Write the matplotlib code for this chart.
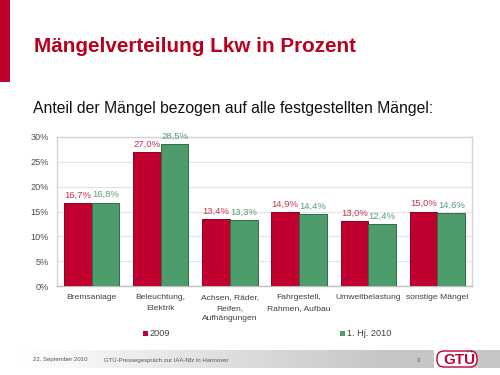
import matplotlib
matplotlib.use("Agg")
import matplotlib.pyplot as plt
import numpy as np
from matplotlib.patches import Rectangle, FancyBboxPatch

plt.rcParams['font.family'] = ['Liberation Sans', 'DejaVu Sans']

categories = ["Bremsanlage", "Beleuchtung,\nElektrik", "Achsen, Räder,\nReifen,\nAufhängungen",
              "Fahrgestell,\nRahmen, Aufbau", "Umweltbelastung", "sonstige Mängel"]
series_names = ["2009", "1. Hj. 2010"]
values_2009 = [16.7, 27.0, 13.4, 14.9, 13.0, 15.0]
values_2010 = [16.8, 28.5, 13.3, 14.4, 12.4, 14.6]
yticks = [0, 5, 10, 15, 20, 25, 30]

RED = "#C0002F"
GREEN = "#4C9C6C"
RED_EDGE = "#8A0022"
GREEN_EDGE = "#2F6E48"
RED_TXT = "#C8324E"
GREEN_TXT = "#5A9C74"

W, H = 500, 375
fig = plt.figure(figsize=(5, 3.75), dpi=100)

def rect(x0, y0, x1, y1):
    return [x0 / W, 1 - y1 / H, (x1 - x0) / W, (y1 - y0) / H]

# background overlay axes
bg = fig.add_axes([0, 0, 1, 1])
bg.set_xlim(0, W)
bg.set_ylim(H, 0)
bg.axis('off')
bg.add_patch(Rectangle((0, 0), 10, 82, color="#C0002F", lw=0))
bg.text(34, 46, "Mängelverteilung Lkw in Prozent", color="#B8001E", fontsize=14.9,
        fontweight='bold', va='center', ha='left')
bg.text(33, 108, "Anteil der Mängel bezogen auf alle festgestellten Mängel:", color="#111111",
        fontsize=11.3, va='center', ha='left')

# footer gradient
grad = np.linspace(0, 1, 256)
gcol = np.ones((1, 256, 3))
light = np.array([1.0, 1.0, 1.0])
dark = np.array([0.78, 0.78, 0.79])
for i, g in enumerate(grad):
    t = min(1.0, g * 1.15)
    gcol[0, i] = light * (1 - t) + dark * t
bg.imshow(gcol, extent=(20, 434, 368, 350), aspect='auto', zorder=1)
bg.add_patch(Rectangle((470, 350), 30, 18, color="#C6C6C8", lw=0, zorder=1))
bg.add_patch(FancyBboxPatch((437, 351), 40, 16, boxstyle="round,pad=0,rounding_size=7",
                            fc="white", ec="#C0002F", lw=1.0, zorder=2))
bg.text(459, 359.5, "GTÜ", color="#C0002F", fontsize=11, fontweight='bold',
        ha='center', va='center', zorder=3)
bg.text(33, 360, "22. September 2010", fontsize=4.3, color="#555555", va='center', zorder=3)
bg.text(104, 360, "GTÜ-Pressegespräch zur IAA-Nfz in Hannover", fontsize=4.3,
        color="#555555", va='center', zorder=3)
bg.text(417, 360, "3", fontsize=4.3, color="#555555", va='center', zorder=3)

# legend
bg.add_patch(Rectangle((143, 331), 5, 5, color=RED, lw=0))
bg.text(149, 334, series_names[0], fontsize=6.6, color="#404040", va='center')
bg.add_patch(Rectangle((340, 331), 5, 5, color=GREEN, lw=0))
bg.text(347, 334, series_names[1], fontsize=6.6, color="#404040", va='center')

# chart
ax = fig.add_axes(rect(57, 137, 472, 286))
x = np.arange(len(categories))
bw = 0.4
ax.bar(x - bw / 2, values_2009, bw, color=RED, edgecolor=RED_EDGE, lw=0.7, zorder=3)
ax.bar(x + bw / 2, values_2010, bw, color=GREEN, edgecolor=GREEN_EDGE, lw=0.7, zorder=3)
for xi, v in zip(x, values_2009):
    ax.annotate(f"{v:.1f}%".replace('.', ','), (xi - bw / 2, v), xytext=(0, 2.5),
                textcoords='offset points', ha='center', va='bottom', fontsize=6.8, color=RED_TXT)
for xi, v in zip(x, values_2010):
    ax.annotate(f"{v:.1f}%".replace('.', ','), (xi + bw / 2, v), xytext=(0, 2.5),
                textcoords='offset points', ha='center', va='bottom', fontsize=6.8, color=GREEN_TXT)

ax.set_xlim(-0.5, len(categories) - 0.5)
ax.set_ylim(0, 30)
ax.set_yticks(yticks)
ax.set_yticklabels([f"{t}%" for t in yticks])
ax.set_xticks(x)
ax.set_xticklabels(categories, fontsize=6.1, color="#404040", linespacing=1.65)
ax.tick_params(axis='y', labelsize=6.6, labelcolor="#505050", length=0, pad=6)
ax.tick_params(axis='x', length=0, pad=6)
ax.grid(axis='y', color="#E4E4E4", lw=0.8, zorder=0)
for s in ax.spines.values():
    s.set_color("#D4D4D4")
    s.set_linewidth(1.0)
ax.spines['bottom'].set_color("#BDBDBD")

fig.savefig("out.png", dpi=100)
